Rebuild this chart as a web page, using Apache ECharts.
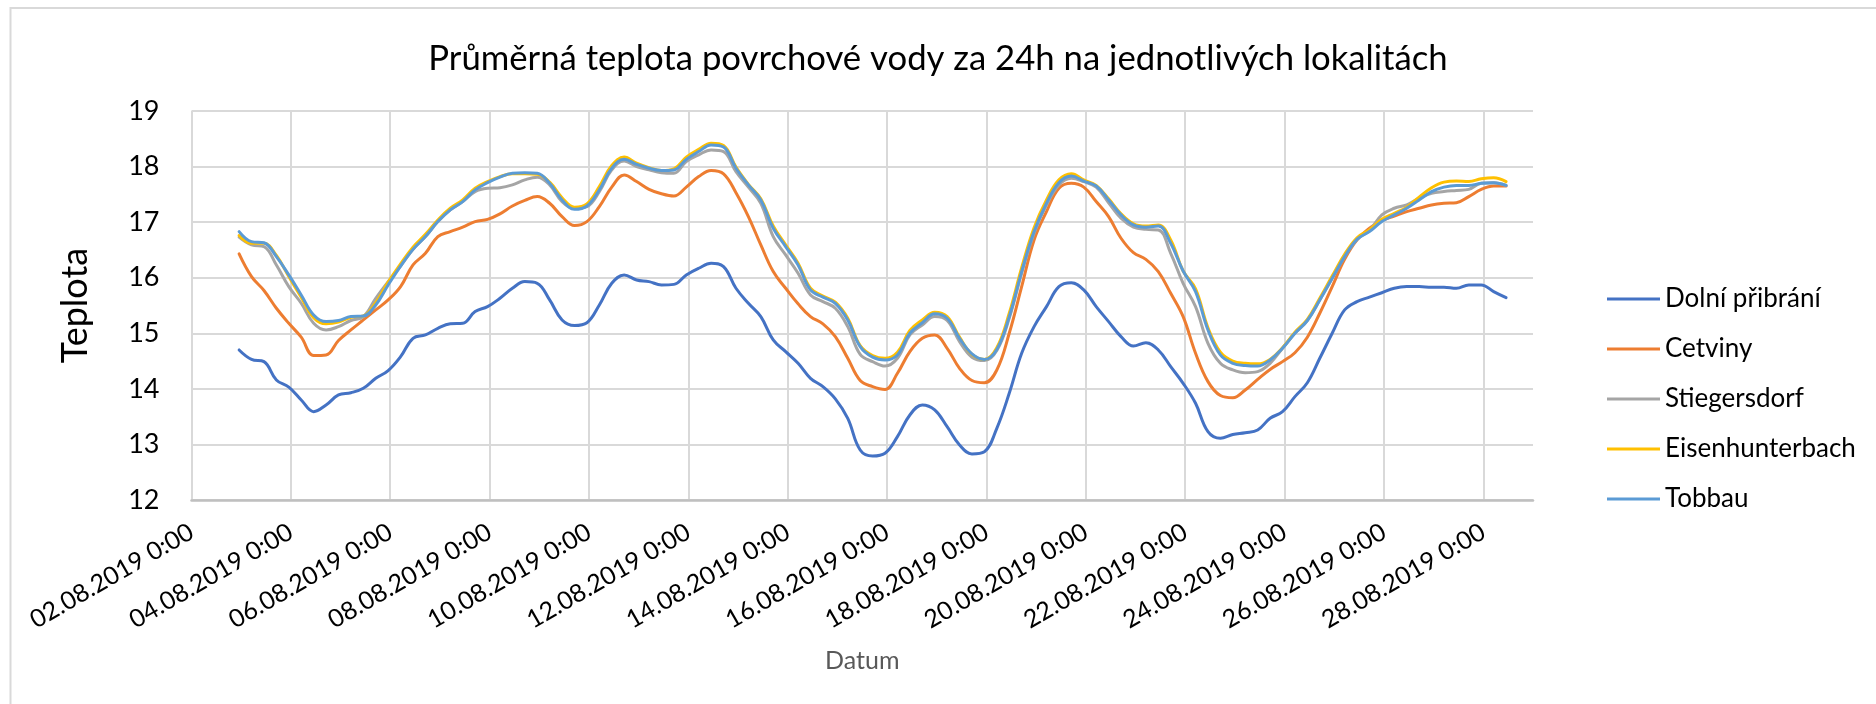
<!DOCTYPE html>
<html>
<head>
<meta charset="utf-8">
<script src="https://cdn.jsdelivr.net/npm/echarts@6/dist/echarts.min.js"></script>
<style>
  html, body { margin: 0; padding: 0; background: #fff; }
  #main { width: 1876px; height: 704px; }
</style>
</head>
<body>
<div id="main"></div>
<script>
// measurement times: every 6 h from 02.08.2019 23:00
var startTime = Date.UTC(2019, 7, 2, 23);
var stepMs = 6 * 3600 * 1000;

var tickLabels = ['02.08.2019 0:00', '04.08.2019 0:00', '06.08.2019 0:00', '08.08.2019 0:00', '10.08.2019 0:00',
	'12.08.2019 0:00', '14.08.2019 0:00', '16.08.2019 0:00', '18.08.2019 0:00', '20.08.2019 0:00',
	'22.08.2019 0:00', '24.08.2019 0:00', '26.08.2019 0:00', '28.08.2019 0:00'];

var seriesNames = ['Dolní přibrání', 'Cetviny', 'Stiegersdorf', 'Eisenhunterbach', 'Tobbau'];
var colors = ['#4472C4', '#ED7D31', '#A5A5A5', '#FFC000', '#5B9BD5'];

var dolni = [
	14.70, 14.53, 14.49, 14.16, 14.03, 13.80, 13.59, 13.71, 13.89, 13.93, 14.01, 14.19, 14.33, 14.58, 14.91, 14.97, 15.09, 15.17, 15.18, 15.39, 15.48, 15.63, 15.81, 15.93, 15.90, 15.60,
	15.24, 15.14, 15.19, 15.51, 15.90, 16.05, 15.96, 15.93, 15.87, 15.88, 16.05, 16.17, 16.26, 16.20, 15.81, 15.54, 15.30, 14.88, 14.67, 14.46, 14.19, 14.04, 13.82, 13.47, 12.90,
	12.79, 12.84, 13.14, 13.53, 13.71, 13.62, 13.32, 12.99, 12.83, 12.87, 13.29, 13.92, 14.64, 15.12, 15.48, 15.84, 15.91, 15.78, 15.48, 15.21, 14.94, 14.77, 14.83, 14.70, 14.40, 14.10,
	13.74, 13.23, 13.11, 13.18, 13.21, 13.26, 13.47, 13.59, 13.86, 14.11, 14.55, 15.00, 15.42, 15.57, 15.65, 15.73, 15.81, 15.84, 15.84, 15.83, 15.83, 15.81, 15.87, 15.87, 15.75, 15.64
];
var cetviny = [
	16.43, 16.02, 15.77, 15.45, 15.18, 14.93, 14.60, 14.61, 14.87, 15.06, 15.24, 15.42, 15.60, 15.84, 16.23, 16.44, 16.74, 16.83, 16.91, 17.01, 17.05, 17.15, 17.29, 17.39, 17.46, 17.34,
	17.10, 16.94, 17.01, 17.28, 17.63, 17.85, 17.73, 17.59, 17.51, 17.47, 17.63, 17.82, 17.93, 17.87, 17.53, 17.10, 16.59, 16.11, 15.81, 15.53, 15.30, 15.17, 14.94, 14.55, 14.15,
	14.04, 13.99, 14.28, 14.67, 14.91, 14.97, 14.73, 14.37, 14.15, 14.11, 14.34, 15.00, 15.84, 16.68, 17.19, 17.61, 17.70, 17.63, 17.37, 17.10, 16.71, 16.45, 16.33, 16.11, 15.72, 15.30,
	14.64, 14.13, 13.88, 13.84, 13.98, 14.17, 14.35, 14.49, 14.65, 14.93, 15.36, 15.84, 16.33, 16.68, 16.89, 17.03, 17.11, 17.19, 17.25, 17.31, 17.34, 17.35, 17.46, 17.59, 17.65, 17.65
];
var stiegersdorf = [
	16.73, 16.59, 16.56, 16.23, 15.84, 15.54, 15.18, 15.06, 15.12, 15.23, 15.30, 15.63, 15.93, 16.21, 16.51, 16.74, 17.01, 17.22, 17.37, 17.55, 17.61, 17.62, 17.67, 17.76, 17.81, 17.67,
	17.37, 17.25, 17.28, 17.55, 17.94, 18.10, 18.00, 17.94, 17.89, 17.88, 18.09, 18.21, 18.30, 18.27, 17.91, 17.63, 17.34, 16.74, 16.41, 16.08, 15.69, 15.57, 15.45, 15.12, 14.62,
	14.49, 14.41, 14.55, 14.97, 15.15, 15.30, 15.23, 14.85, 14.57, 14.51, 14.69, 15.27, 16.08, 16.80, 17.31, 17.67, 17.79, 17.73, 17.63, 17.35, 17.07, 16.91, 16.87, 16.86, 16.44, 15.90,
	15.48, 14.82, 14.46, 14.34, 14.29, 14.31, 14.46, 14.73, 15.00, 15.23, 15.60, 15.99, 16.38, 16.69, 16.85, 17.13, 17.25, 17.31, 17.43, 17.52, 17.55, 17.57, 17.59, 17.70, 17.71, 17.66
];
var eisenhunterbach = [
	16.76, 16.62, 16.62, 16.40, 16.02, 15.65, 15.28, 15.17, 15.20, 15.29, 15.31, 15.55, 15.92, 16.25, 16.55, 16.78, 17.04, 17.25, 17.40, 17.61, 17.73, 17.82, 17.87, 17.87, 17.86, 17.72,
	17.44, 17.27, 17.33, 17.64, 18.02, 18.17, 18.06, 17.98, 17.93, 17.96, 18.17, 18.31, 18.42, 18.38, 17.99, 17.68, 17.42, 16.93, 16.59, 16.26, 15.81, 15.67, 15.56, 15.27, 14.78,
	14.60, 14.55, 14.66, 15.05, 15.24, 15.38, 15.30, 14.93, 14.62, 14.53, 14.74, 15.36, 16.18, 16.90, 17.40, 17.76, 17.87, 17.76, 17.66, 17.42, 17.15, 16.97, 16.93, 16.95, 16.68, 16.12,
	15.80, 15.10, 14.66, 14.50, 14.46, 14.45, 14.53, 14.74, 15.02, 15.25, 15.63, 16.03, 16.42, 16.72, 16.86, 17.05, 17.16, 17.27, 17.45, 17.62, 17.72, 17.74, 17.73, 17.78, 17.80, 17.73
];
var tobbau = [
	16.83, 16.65, 16.63, 16.38, 16.05, 15.69, 15.33, 15.21, 15.23, 15.30, 15.31, 15.51, 15.87, 16.21, 16.51, 16.74, 17.01, 17.22, 17.37, 17.58, 17.71, 17.81, 17.88, 17.89, 17.88, 17.70,
	17.40, 17.23, 17.29, 17.58, 17.97, 18.13, 18.04, 17.97, 17.93, 17.94, 18.13, 18.27, 18.39, 18.35, 17.97, 17.67, 17.40, 16.89, 16.56, 16.23, 15.78, 15.65, 15.54, 15.24, 14.76,
	14.57, 14.52, 14.61, 15.00, 15.19, 15.35, 15.27, 14.91, 14.63, 14.53, 14.71, 15.30, 16.11, 16.83, 17.34, 17.71, 17.83, 17.74, 17.65, 17.40, 17.13, 16.95, 16.91, 16.93, 16.62, 16.12,
	15.75, 15.06, 14.61, 14.46, 14.42, 14.41, 14.52, 14.73, 15.00, 15.23, 15.60, 15.99, 16.38, 16.69, 16.83, 17.01, 17.13, 17.25, 17.40, 17.55, 17.63, 17.66, 17.66, 17.70, 17.71, 17.66
];

var allValues = [dolni, cetviny, stiegersdorf, eisenhunterbach, tobbau];

var times = [];
for (var i = 0; i < dolni.length; i++) {
	times.push(startTime + i * stepMs);
}

var xMin = Date.UTC(2019, 7, 2);
var xMax = Date.UTC(2019, 7, 29);
var xStep = 2 * 24 * 3600 * 1000;
var font = 'Lato';

var myChart = echarts.init(document.getElementById('main'));

var series = seriesNames.map(function (name, s) {
	return {
		name: name,
		type: 'line',
		data: allValues[s].map(function (v, i) { return [times[i], v]; }),
		showSymbol: false,
		smooth: 0.4,
		lineStyle: { color: colors[s], width: 3, cap: 'round', join: 'round' },
		itemStyle: { color: colors[s] },
		z: 2 + s
	};
});

var option = {
	animation: false,
	backgroundColor: '#fff',
	textStyle: { fontFamily: font },
	title: {
		text: 'Průměrná teplota povrchové vody za 24h na jednotlivých lokalitách',
		left: 'center',
		top: 36,
		textStyle: { fontFamily: font, fontSize: 34.7, fontWeight: 'normal', color: '#000' }
	},
	legend: {
		orient: 'vertical',
		left: 1602,
		top: 279,
		itemWidth: 53,
		itemHeight: 3,
		itemGap: 20,
		icon: 'rect',
		textStyle: { fontFamily: font, fontSize: 26, color: '#000', lineHeight: 30 },
		data: seriesNames
	},
	grid: { left: 191.5, right: 343, top: 111, bottom: 204 },
	xAxis: {
		type: 'value',
		min: xMin,
		max: xMax,
		interval: xStep,
		name: 'Datum',
		nameLocation: 'middle',
		nameGap: 148,
		nameTextStyle: { fontFamily: font, fontSize: 25, color: '#595959' },
		axisLine: { show: true, lineStyle: { color: '#BFBFBF', width: 2.5 } },
		axisTick: { show: false },
		axisLabel: {
			rotate: 30,
			margin: 30,
			showMaxLabel: false,
			fontFamily: font,
			fontSize: 25,
			color: '#000',
			formatter: function (v) {
				var idx = Math.round((v - xMin) / xStep);
				return tickLabels[idx] || '';
			}
		},
		splitLine: { show: true, showMaxLine: false, lineStyle: { color: '#D9D9D9', width: 2 } }
	},
	yAxis: {
		type: 'value',
		min: 12,
		max: 19,
		interval: 1,
		name: 'Teplota',
		nameLocation: 'middle',
		nameRotate: 90,
		nameGap: 98,
		nameTextStyle: { fontFamily: font, fontSize: 36, color: '#000' },
		axisLine: { show: false },
		axisTick: { show: false },
		axisLabel: { margin: 32, fontFamily: font, fontSize: 27, color: '#000' },
		splitLine: { show: true, lineStyle: { color: '#D9D9D9', width: 2 } }
	},
	graphic: [{
		type: 'rect',
		shape: { x: 10.5, y: 8, width: 1900, height: 800 },
		style: { fill: 'none', stroke: '#D9D9D9', lineWidth: 2 },
		silent: true,
		z: -1
	}],
	series: series
};

myChart.setOption(option);
</script>
</body>
</html>
